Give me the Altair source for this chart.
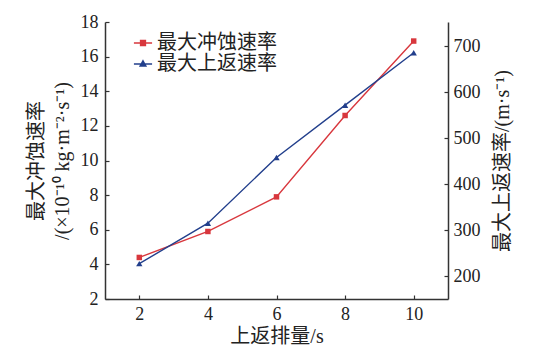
import altair as alt
import pandas as pd

# ---- data ----
x_vals = [2, 4, 6, 8, 10]
erosion = [4.4, 5.9, 7.9, 12.6, 16.9]        # 最大冲蚀速率 (left axis)
velocity = [227, 315, 458, 572, 686]          # 最大上返速率 (right axis)
series_names = ["最大冲蚀速率", "最大上返速率"]
left_ticks = [2, 4, 6, 8, 10, 12, 14, 16, 18]
right_ticks = [200, 300, 400, 500, 600, 700]

RED = "#d8373d"
BLUE = "#223f8c"
AXC = "#333333"
FONT = "Liberation Serif, Noto Sans CJK SC"
W, H = 343, 277
INWARD = alt.ExprRef(expr="-4")   # inward-pointing ticks

df = pd.DataFrame({"x": x_vals, "erosion": erosion, "velocity": velocity})
leg_df = pd.DataFrame({"series": series_names})

x_enc = alt.X(
    "x:Q",
    scale=alt.Scale(domain=[1, 11], nice=False, zero=False),
    axis=alt.Axis(values=x_vals, title="上返排量/s", grid=False,
                  tickSize=INWARD, labelPadding=10, titlePadding=3),
)

base = alt.Chart(df).encode(x=x_enc)

y_left = alt.Y(
    "erosion:Q",
    scale=alt.Scale(domain=[2, 18], nice=False, zero=False),
    axis=alt.Axis(orient="left", values=left_ticks, grid=False, tickSize=INWARD,
                  labelPadding=11, titlePadding=8, titleLineHeight=26,
                  title=["最大冲蚀速率", "/(×10⁻¹⁰ kg·m⁻²·s⁻¹)"]),
)
red = alt.layer(
    base.mark_line(color=RED, strokeWidth=1.4).encode(y=y_left),
    base.mark_point(shape="square", filled=True, color=RED, size=30, opacity=1).encode(y=y_left),
)

y_right = alt.Y(
    "velocity:Q",
    scale=alt.Scale(domain=[150, 753], nice=False, zero=False),
    axis=alt.Axis(orient="right", values=right_ticks, grid=False, tickSize=INWARD,
                  labelPadding=9, titlePadding=12, titleAngle=270, titleBaseline="top",
                  title="最大上返速率/(m·s⁻¹)"),
)
blue = alt.layer(
    base.mark_line(color=BLUE, strokeWidth=1.4).encode(y=y_right),
    base.mark_point(shape="triangle-up", filled=True, color=BLUE, size=40, opacity=1).encode(y=y_right),
)

# legend symbols: line segment with a (stroke-filled) marker in the middle
sq_path = "M-1,0H1M-0.27,-0.27H0.27V0.27H-0.27ZM-0.27,-0.14H0.27M-0.27,0.14H0.27"
tri_path = ("M-1,0H1M0,-0.36L0.32,0.22H-0.32Z"
            "M-0.25,0.1H0.25M-0.17,-0.05H0.17M-0.1,-0.18H0.1")
leg = alt.Legend(title=None, orient="none", legendX=28, legendY=11, padding=0,
                 symbolSize=330, symbolStrokeWidth=1.4, labelFontSize=20,
                 labelFont=FONT, labelOffset=4, rowPadding=1, labelColor="#222222")
legend_layer = alt.Chart(leg_df).mark_point(filled=False, opacity=0).encode(
    color=alt.Color("series:N", scale=alt.Scale(domain=series_names, range=[RED, BLUE]),
                    legend=leg, sort=series_names),
    shape=alt.Shape("series:N", scale=alt.Scale(domain=series_names, range=[sq_path, tri_path]),
                    legend=leg, sort=series_names),
)

chart = (
    alt.layer(red, blue, legend_layer)
    .resolve_scale(y="independent")
    .properties(width=W, height=H,
                autosize=alt.AutoSizeParams(type="none"),
                padding={"left": 105, "top": 22, "right": 105, "bottom": 53},
                background="white")
    .configure_view(stroke=None)
    .configure_axis(domainColor=AXC, domainWidth=1.5, tickColor=AXC, tickWidth=1.2,
                    labelFont=FONT, labelFontSize=18, labelColor="#222222",
                    titleFont=FONT, titleFontSize=20, titleFontWeight="normal",
                    titleColor="#222222")
)

chart.save("out.html", embed_options={"renderer": "svg", "actions": False})
